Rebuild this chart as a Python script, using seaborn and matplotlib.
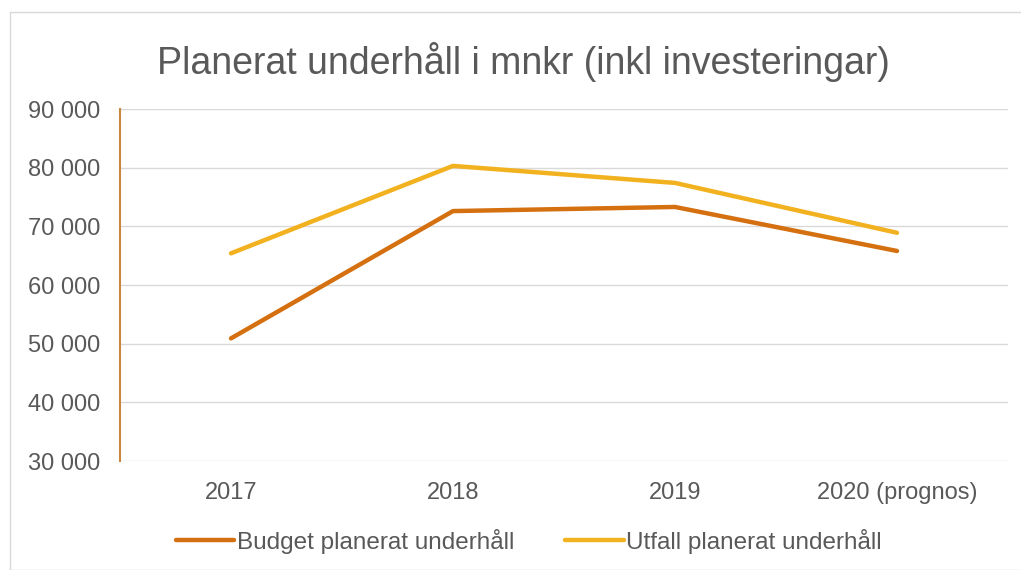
import pandas as pd
import matplotlib.pyplot as plt
import matplotlib.patches as mpatches
import seaborn as sns

# values (mnkr)
years = ['2017', '2018', '2019', '2020 (prognos)']
budget = [50900, 72600, 73300, 65800]
utfall = [65400, 80300, 77400, 68900]
series_names = ['Budget planerat underhåll', 'Utfall planerat underhåll']
colors = ['#D4700F', '#F2B11F']
yticks = [30000, 40000, 50000, 60000, 70000, 80000, 90000]

df = pd.DataFrame({
    'pos': list(range(len(years))) * 2,
    'value': budget + utfall,
    'serie': [series_names[0]] * len(years) + [series_names[1]] * len(years),
})

sns.set_style('white')
plt.rcParams['font.family'] = ['Liberation Sans', 'DejaVu Sans']

fig = plt.figure(figsize=(10.21, 5.70), dpi=100)
ax = fig.add_axes([120 / 1021, 1 - 461 / 570, 888 / 1021, 352 / 570])

sns.lineplot(data=df, x='pos', y='value', hue='serie', palette=colors,
             linewidth=3.2, ax=ax, legend=False, zorder=3)

ax.set_xlim(-0.5, len(years) - 0.5)
ax.set_ylim(30000, 90000)
ax.set_yticks(yticks)
ax.set_yticklabels([f'{v:,}'.replace(',', ' ') for v in yticks])
ax.set_xticks(range(len(years)))
ax.set_xticklabels(years)
ax.tick_params(axis='both', length=0, labelsize=17, colors='#595959')
ax.tick_params(axis='y', pad=14)
ax.tick_params(axis='x', pad=15)
ax.yaxis.grid(True, color='#D9D9D9', linewidth=1)
ax.set_axisbelow(True)
ax.set_xlabel('')
ax.set_ylabel('')
for s in ['top', 'right', 'bottom']:
    ax.spines[s].set_visible(False)
ax.spines['left'].set_color('#C8893F')
ax.spines['left'].set_linewidth(1.5)

fig.text(0.513, 1 - 62 / 570, 'Planerat underhåll i mnkr (inkl investeringar)',
         ha='center', va='center', fontsize=27, color='#595959')

handles = [plt.Line2D([], [], color=c, linewidth=3.2) for c in colors]
fig.legend(handles, series_names, loc='center', bbox_to_anchor=(0.518, 1 - 541 / 570),
           ncol=2, frameon=False, fontsize=17.5, handlelength=2.4,
           handletextpad=0.1, columnspacing=2.1, labelcolor='#595959')

# outer chart border
fig.patches.append(mpatches.Rectangle((10 / 1021, 0), 1.2, 1 - 12 / 570,
                                      transform=fig.transFigure, fill=False,
                                      edgecolor='#D9D9D9', linewidth=1))

fig.savefig('out.png', dpi=100)
